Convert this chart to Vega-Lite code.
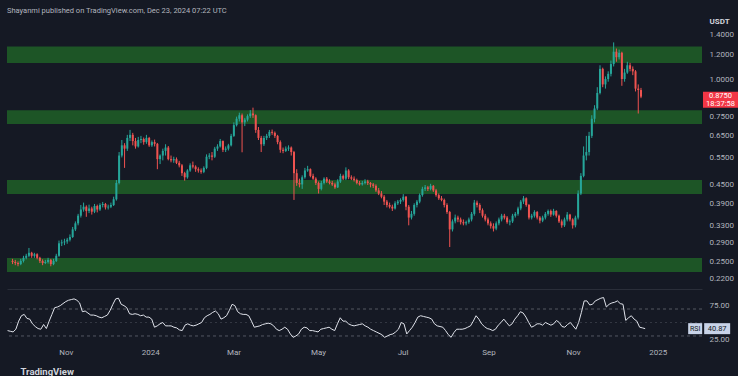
{
"$schema":"https://vega.github.io/schema/vega-lite/v6.json",
"background":"#151924",
"padding":{"left":5,"top":6,"right":0,"bottom":0},
"title":{"text":"Shayanmi published on TradingView.com, Dec 23, 2024 07:22 UTC","anchor":"start","frame":"group","fontSize":7.5,"fontWeight":"normal","color":"#b2b5be","offset":3,"font":"Roboto"},
"config":{"view":{"stroke":null},"font":"Roboto","axis":{"grid":false,"ticks":false,"domain":false,"labelColor":"#b2b5be","labelFontSize":8,"titleColor":"#d1d4dc"}},
"spacing":2,
"datasets":{
"zones":[{"lo":1.13,"hi":1.28},{"lo":0.711,"hi":0.79},{"lo":0.4185,"hi":0.465},{"lo":0.2317,"hi":0.2577}],
"candles":[
{"d":"2023-09-20","o":0.252,"h":0.256,"l":0.246,"c":0.250,"r":38},
{"d":"2023-09-22","o":0.250,"h":0.254,"l":0.244,"c":0.248,"r":37},
{"d":"2023-09-24","o":0.248,"h":0.251,"l":0.242,"c":0.246,"r":36},
{"d":"2023-09-26","o":0.246,"h":0.256,"l":0.244,"c":0.252,"r":40},
{"d":"2023-09-28","o":0.252,"h":0.262,"l":0.249,"c":0.258,"r":52},
{"d":"2023-09-30","o":0.258,"h":0.266,"l":0.255,"c":0.262,"r":60},
{"d":"2023-10-02","o":0.262,"h":0.278,"l":0.259,"c":0.268,"r":62},
{"d":"2023-10-04","o":0.268,"h":0.270,"l":0.258,"c":0.262,"r":56},
{"d":"2023-10-06","o":0.262,"h":0.268,"l":0.258,"c":0.265,"r":55},
{"d":"2023-10-08","o":0.265,"h":0.267,"l":0.255,"c":0.258,"r":48},
{"d":"2023-10-10","o":0.258,"h":0.260,"l":0.248,"c":0.252,"r":44},
{"d":"2023-10-12","o":0.252,"h":0.255,"l":0.244,"c":0.248,"r":41},
{"d":"2023-10-14","o":0.248,"h":0.254,"l":0.246,"c":0.250,"r":40},
{"d":"2023-10-16","o":0.250,"h":0.258,"l":0.247,"c":0.254,"r":47},
{"d":"2023-10-18","o":0.254,"h":0.256,"l":0.242,"c":0.246,"r":41},
{"d":"2023-10-20","o":0.246,"h":0.256,"l":0.244,"c":0.252,"r":52},
{"d":"2023-10-22","o":0.252,"h":0.266,"l":0.250,"c":0.262,"r":62},
{"d":"2023-10-24","o":0.262,"h":0.294,"l":0.260,"c":0.288,"r":72},
{"d":"2023-10-26","o":0.288,"h":0.296,"l":0.282,"c":0.290,"r":73},
{"d":"2023-10-28","o":0.290,"h":0.298,"l":0.284,"c":0.292,"r":75},
{"d":"2023-10-30","o":0.292,"h":0.300,"l":0.287,"c":0.296,"r":78},
{"d":"2023-11-01","o":0.296,"h":0.308,"l":0.292,"c":0.302,"r":81},
{"d":"2023-11-03","o":0.302,"h":0.326,"l":0.300,"c":0.320,"r":83},
{"d":"2023-11-05","o":0.320,"h":0.340,"l":0.316,"c":0.335,"r":84},
{"d":"2023-11-07","o":0.335,"h":0.360,"l":0.330,"c":0.355,"r":85},
{"d":"2023-11-09","o":0.355,"h":0.385,"l":0.350,"c":0.372,"r":83},
{"d":"2023-11-11","o":0.372,"h":0.392,"l":0.366,"c":0.380,"r":79},
{"d":"2023-11-13","o":0.380,"h":0.384,"l":0.352,"c":0.368,"r":66},
{"d":"2023-11-15","o":0.368,"h":0.386,"l":0.362,"c":0.375,"r":67},
{"d":"2023-11-17","o":0.375,"h":0.380,"l":0.358,"c":0.366,"r":64},
{"d":"2023-11-19","o":0.366,"h":0.388,"l":0.362,"c":0.382,"r":61},
{"d":"2023-11-21","o":0.382,"h":0.386,"l":0.364,"c":0.372,"r":61},
{"d":"2023-11-23","o":0.372,"h":0.390,"l":0.368,"c":0.385,"r":60},
{"d":"2023-11-25","o":0.385,"h":0.394,"l":0.378,"c":0.388,"r":58},
{"d":"2023-11-27","o":0.388,"h":0.391,"l":0.372,"c":0.378,"r":57},
{"d":"2023-11-29","o":0.378,"h":0.386,"l":0.372,"c":0.380,"r":59},
{"d":"2023-12-01","o":0.380,"h":0.392,"l":0.376,"c":0.385,"r":61},
{"d":"2023-12-03","o":0.385,"h":0.410,"l":0.382,"c":0.402,"r":68},
{"d":"2023-12-05","o":0.402,"h":0.465,"l":0.398,"c":0.455,"r":77},
{"d":"2023-12-07","o":0.455,"h":0.575,"l":0.450,"c":0.560,"r":85},
{"d":"2023-12-09","o":0.560,"h":0.630,"l":0.552,"c":0.605,"r":86},
{"d":"2023-12-11","o":0.605,"h":0.615,"l":0.510,"c":0.590,"r":77},
{"d":"2023-12-13","o":0.590,"h":0.655,"l":0.580,"c":0.640,"r":75},
{"d":"2023-12-15","o":0.640,"h":0.680,"l":0.625,"c":0.655,"r":72},
{"d":"2023-12-17","o":0.655,"h":0.665,"l":0.605,"c":0.625,"r":63},
{"d":"2023-12-19","o":0.625,"h":0.640,"l":0.590,"c":0.600,"r":62},
{"d":"2023-12-21","o":0.600,"h":0.645,"l":0.595,"c":0.630,"r":63},
{"d":"2023-12-23","o":0.630,"h":0.650,"l":0.615,"c":0.635,"r":62},
{"d":"2023-12-25","o":0.635,"h":0.642,"l":0.608,"c":0.620,"r":60},
{"d":"2023-12-27","o":0.620,"h":0.655,"l":0.612,"c":0.640,"r":61},
{"d":"2023-12-29","o":0.640,"h":0.645,"l":0.598,"c":0.605,"r":58},
{"d":"2023-12-31","o":0.605,"h":0.628,"l":0.598,"c":0.620,"r":58},
{"d":"2024-01-02","o":0.620,"h":0.632,"l":0.600,"c":0.612,"r":55},
{"d":"2024-01-04","o":0.612,"h":0.616,"l":0.505,"c":0.545,"r":43},
{"d":"2024-01-06","o":0.545,"h":0.565,"l":0.525,"c":0.560,"r":45},
{"d":"2024-01-08","o":0.560,"h":0.590,"l":0.540,"c":0.580,"r":48},
{"d":"2024-01-10","o":0.580,"h":0.610,"l":0.560,"c":0.595,"r":50},
{"d":"2024-01-12","o":0.595,"h":0.602,"l":0.540,"c":0.545,"r":45},
{"d":"2024-01-14","o":0.545,"h":0.560,"l":0.532,"c":0.540,"r":45},
{"d":"2024-01-16","o":0.540,"h":0.555,"l":0.530,"c":0.545,"r":45},
{"d":"2024-01-18","o":0.545,"h":0.552,"l":0.525,"c":0.530,"r":43},
{"d":"2024-01-20","o":0.530,"h":0.538,"l":0.512,"c":0.520,"r":42},
{"d":"2024-01-22","o":0.520,"h":0.525,"l":0.480,"c":0.490,"r":39},
{"d":"2024-01-24","o":0.490,"h":0.495,"l":0.463,"c":0.475,"r":38},
{"d":"2024-01-26","o":0.475,"h":0.505,"l":0.470,"c":0.500,"r":46},
{"d":"2024-01-28","o":0.500,"h":0.528,"l":0.495,"c":0.520,"r":48},
{"d":"2024-01-30","o":0.520,"h":0.535,"l":0.508,"c":0.515,"r":46},
{"d":"2024-02-01","o":0.515,"h":0.520,"l":0.495,"c":0.505,"r":45},
{"d":"2024-02-03","o":0.505,"h":0.512,"l":0.492,"c":0.500,"r":46},
{"d":"2024-02-05","o":0.500,"h":0.508,"l":0.488,"c":0.495,"r":48},
{"d":"2024-02-07","o":0.495,"h":0.516,"l":0.490,"c":0.510,"r":50},
{"d":"2024-02-09","o":0.510,"h":0.565,"l":0.505,"c":0.555,"r":57},
{"d":"2024-02-11","o":0.555,"h":0.570,"l":0.545,"c":0.560,"r":60},
{"d":"2024-02-13","o":0.560,"h":0.575,"l":0.540,"c":0.555,"r":62},
{"d":"2024-02-15","o":0.555,"h":0.598,"l":0.550,"c":0.590,"r":65},
{"d":"2024-02-17","o":0.590,"h":0.610,"l":0.580,"c":0.600,"r":67},
{"d":"2024-02-19","o":0.600,"h":0.635,"l":0.595,"c":0.625,"r":63},
{"d":"2024-02-21","o":0.625,"h":0.628,"l":0.575,"c":0.585,"r":55},
{"d":"2024-02-23","o":0.585,"h":0.600,"l":0.575,"c":0.590,"r":57},
{"d":"2024-02-25","o":0.590,"h":0.612,"l":0.582,"c":0.605,"r":60},
{"d":"2024-02-27","o":0.605,"h":0.660,"l":0.600,"c":0.650,"r":68},
{"d":"2024-02-29","o":0.650,"h":0.720,"l":0.645,"c":0.705,"r":77},
{"d":"2024-03-02","o":0.705,"h":0.752,"l":0.698,"c":0.740,"r":75},
{"d":"2024-03-04","o":0.740,"h":0.775,"l":0.725,"c":0.760,"r":66},
{"d":"2024-03-06","o":0.760,"h":0.770,"l":0.574,"c":0.720,"r":63},
{"d":"2024-03-08","o":0.720,"h":0.745,"l":0.700,"c":0.735,"r":62},
{"d":"2024-03-10","o":0.735,"h":0.765,"l":0.725,"c":0.755,"r":62},
{"d":"2024-03-12","o":0.755,"h":0.790,"l":0.745,"c":0.770,"r":60},
{"d":"2024-03-14","o":0.770,"h":0.805,"l":0.745,"c":0.760,"r":52},
{"d":"2024-03-16","o":0.760,"h":0.765,"l":0.665,"c":0.680,"r":43},
{"d":"2024-03-18","o":0.680,"h":0.695,"l":0.630,"c":0.640,"r":44},
{"d":"2024-03-20","o":0.640,"h":0.650,"l":0.575,"c":0.610,"r":45},
{"d":"2024-03-22","o":0.610,"h":0.650,"l":0.602,"c":0.640,"r":47},
{"d":"2024-03-24","o":0.640,"h":0.660,"l":0.630,"c":0.650,"r":48},
{"d":"2024-03-26","o":0.650,"h":0.680,"l":0.640,"c":0.670,"r":49},
{"d":"2024-03-28","o":0.670,"h":0.682,"l":0.655,"c":0.665,"r":48},
{"d":"2024-03-30","o":0.665,"h":0.672,"l":0.640,"c":0.650,"r":45},
{"d":"2024-04-01","o":0.650,"h":0.655,"l":0.610,"c":0.620,"r":40},
{"d":"2024-04-03","o":0.620,"h":0.628,"l":0.572,"c":0.585,"r":38},
{"d":"2024-04-05","o":0.585,"h":0.595,"l":0.570,"c":0.580,"r":40},
{"d":"2024-04-07","o":0.580,"h":0.600,"l":0.575,"c":0.590,"r":43},
{"d":"2024-04-09","o":0.590,"h":0.605,"l":0.580,"c":0.595,"r":40},
{"d":"2024-04-11","o":0.595,"h":0.600,"l":0.560,"c":0.575,"r":33},
{"d":"2024-04-13","o":0.575,"h":0.580,"l":0.400,"c":0.490,"r":28},
{"d":"2024-04-15","o":0.490,"h":0.505,"l":0.445,"c":0.455,"r":30},
{"d":"2024-04-17","o":0.455,"h":0.470,"l":0.440,"c":0.450,"r":33},
{"d":"2024-04-19","o":0.450,"h":0.482,"l":0.435,"c":0.475,"r":40},
{"d":"2024-04-21","o":0.475,"h":0.510,"l":0.470,"c":0.500,"r":43},
{"d":"2024-04-23","o":0.500,"h":0.518,"l":0.495,"c":0.505,"r":42},
{"d":"2024-04-25","o":0.505,"h":0.508,"l":0.475,"c":0.480,"r":38},
{"d":"2024-04-27","o":0.480,"h":0.488,"l":0.466,"c":0.470,"r":38},
{"d":"2024-04-29","o":0.470,"h":0.475,"l":0.448,"c":0.455,"r":37},
{"d":"2024-05-01","o":0.455,"h":0.460,"l":0.420,"c":0.435,"r":36},
{"d":"2024-05-03","o":0.435,"h":0.462,"l":0.430,"c":0.455,"r":40},
{"d":"2024-05-05","o":0.455,"h":0.475,"l":0.450,"c":0.470,"r":41},
{"d":"2024-05-07","o":0.470,"h":0.476,"l":0.455,"c":0.460,"r":42},
{"d":"2024-05-09","o":0.460,"h":0.468,"l":0.450,"c":0.455,"r":43},
{"d":"2024-05-11","o":0.455,"h":0.462,"l":0.445,"c":0.450,"r":40},
{"d":"2024-05-13","o":0.450,"h":0.456,"l":0.435,"c":0.440,"r":38},
{"d":"2024-05-15","o":0.440,"h":0.468,"l":0.438,"c":0.460,"r":48},
{"d":"2024-05-17","o":0.460,"h":0.488,"l":0.455,"c":0.480,"r":57},
{"d":"2024-05-19","o":0.480,"h":0.485,"l":0.465,"c":0.470,"r":52},
{"d":"2024-05-21","o":0.470,"h":0.512,"l":0.465,"c":0.500,"r":52},
{"d":"2024-05-23","o":0.500,"h":0.505,"l":0.468,"c":0.475,"r":48},
{"d":"2024-05-25","o":0.475,"h":0.482,"l":0.465,"c":0.470,"r":46},
{"d":"2024-05-27","o":0.470,"h":0.478,"l":0.460,"c":0.465,"r":45},
{"d":"2024-05-29","o":0.465,"h":0.470,"l":0.450,"c":0.455,"r":46},
{"d":"2024-05-31","o":0.455,"h":0.462,"l":0.446,"c":0.450,"r":47},
{"d":"2024-06-02","o":0.450,"h":0.462,"l":0.446,"c":0.455,"r":48},
{"d":"2024-06-04","o":0.455,"h":0.468,"l":0.450,"c":0.460,"r":45},
{"d":"2024-06-06","o":0.460,"h":0.466,"l":0.448,"c":0.455,"r":43},
{"d":"2024-06-08","o":0.455,"h":0.458,"l":0.440,"c":0.450,"r":40},
{"d":"2024-06-10","o":0.450,"h":0.455,"l":0.438,"c":0.445,"r":38},
{"d":"2024-06-12","o":0.445,"h":0.450,"l":0.425,"c":0.430,"r":36},
{"d":"2024-06-14","o":0.430,"h":0.438,"l":0.415,"c":0.420,"r":34},
{"d":"2024-06-16","o":0.420,"h":0.428,"l":0.405,"c":0.410,"r":32},
{"d":"2024-06-18","o":0.410,"h":0.415,"l":0.385,"c":0.395,"r":28},
{"d":"2024-06-20","o":0.395,"h":0.400,"l":0.378,"c":0.385,"r":30},
{"d":"2024-06-22","o":0.385,"h":0.392,"l":0.375,"c":0.380,"r":32},
{"d":"2024-06-24","o":0.380,"h":0.386,"l":0.368,"c":0.375,"r":33},
{"d":"2024-06-26","o":0.375,"h":0.396,"l":0.372,"c":0.390,"r":36},
{"d":"2024-06-28","o":0.390,"h":0.400,"l":0.385,"c":0.395,"r":40},
{"d":"2024-06-30","o":0.395,"h":0.405,"l":0.388,"c":0.400,"r":50},
{"d":"2024-07-02","o":0.400,"h":0.418,"l":0.395,"c":0.410,"r":48},
{"d":"2024-07-04","o":0.410,"h":0.412,"l":0.370,"c":0.380,"r":33},
{"d":"2024-07-06","o":0.380,"h":0.385,"l":0.330,"c":0.350,"r":38},
{"d":"2024-07-08","o":0.350,"h":0.368,"l":0.345,"c":0.360,"r":43},
{"d":"2024-07-10","o":0.360,"h":0.390,"l":0.355,"c":0.385,"r":50},
{"d":"2024-07-12","o":0.385,"h":0.400,"l":0.378,"c":0.395,"r":58},
{"d":"2024-07-14","o":0.395,"h":0.420,"l":0.390,"c":0.415,"r":60},
{"d":"2024-07-16","o":0.415,"h":0.442,"l":0.410,"c":0.435,"r":59},
{"d":"2024-07-18","o":0.435,"h":0.448,"l":0.428,"c":0.440,"r":58},
{"d":"2024-07-20","o":0.440,"h":0.445,"l":0.428,"c":0.435,"r":57},
{"d":"2024-07-22","o":0.435,"h":0.452,"l":0.430,"c":0.445,"r":55},
{"d":"2024-07-24","o":0.445,"h":0.448,"l":0.425,"c":0.430,"r":48},
{"d":"2024-07-26","o":0.430,"h":0.435,"l":0.410,"c":0.415,"r":45},
{"d":"2024-07-28","o":0.415,"h":0.420,"l":0.400,"c":0.405,"r":44},
{"d":"2024-07-30","o":0.405,"h":0.412,"l":0.396,"c":0.400,"r":43},
{"d":"2024-08-01","o":0.400,"h":0.404,"l":0.378,"c":0.385,"r":38},
{"d":"2024-08-03","o":0.385,"h":0.390,"l":0.360,"c":0.365,"r":32},
{"d":"2024-08-05","o":0.365,"h":0.368,"l":0.280,"c":0.320,"r":28},
{"d":"2024-08-07","o":0.320,"h":0.345,"l":0.315,"c":0.340,"r":35},
{"d":"2024-08-09","o":0.340,"h":0.358,"l":0.335,"c":0.350,"r":40},
{"d":"2024-08-11","o":0.350,"h":0.355,"l":0.338,"c":0.345,"r":40},
{"d":"2024-08-13","o":0.345,"h":0.350,"l":0.332,"c":0.338,"r":40},
{"d":"2024-08-15","o":0.338,"h":0.345,"l":0.330,"c":0.335,"r":41},
{"d":"2024-08-17","o":0.335,"h":0.342,"l":0.330,"c":0.338,"r":43},
{"d":"2024-08-19","o":0.338,"h":0.350,"l":0.334,"c":0.345,"r":45},
{"d":"2024-08-21","o":0.345,"h":0.365,"l":0.340,"c":0.360,"r":52},
{"d":"2024-08-23","o":0.360,"h":0.400,"l":0.355,"c":0.392,"r":60},
{"d":"2024-08-25","o":0.392,"h":0.398,"l":0.378,"c":0.385,"r":55},
{"d":"2024-08-27","o":0.385,"h":0.390,"l":0.362,"c":0.370,"r":48},
{"d":"2024-08-29","o":0.370,"h":0.375,"l":0.350,"c":0.355,"r":44},
{"d":"2024-08-31","o":0.355,"h":0.360,"l":0.340,"c":0.345,"r":41},
{"d":"2024-09-02","o":0.345,"h":0.350,"l":0.330,"c":0.335,"r":40},
{"d":"2024-09-04","o":0.335,"h":0.340,"l":0.322,"c":0.328,"r":38},
{"d":"2024-09-06","o":0.328,"h":0.335,"l":0.315,"c":0.322,"r":40},
{"d":"2024-09-08","o":0.322,"h":0.340,"l":0.318,"c":0.335,"r":46},
{"d":"2024-09-10","o":0.335,"h":0.350,"l":0.330,"c":0.345,"r":50},
{"d":"2024-09-12","o":0.345,"h":0.360,"l":0.340,"c":0.355,"r":55},
{"d":"2024-09-14","o":0.355,"h":0.360,"l":0.345,"c":0.350,"r":50},
{"d":"2024-09-16","o":0.350,"h":0.354,"l":0.334,"c":0.338,"r":45},
{"d":"2024-09-18","o":0.338,"h":0.345,"l":0.330,"c":0.340,"r":48},
{"d":"2024-09-20","o":0.340,"h":0.360,"l":0.336,"c":0.355,"r":55},
{"d":"2024-09-22","o":0.355,"h":0.365,"l":0.350,"c":0.360,"r":60},
{"d":"2024-09-24","o":0.360,"h":0.380,"l":0.355,"c":0.375,"r":66},
{"d":"2024-09-26","o":0.375,"h":0.400,"l":0.370,"c":0.395,"r":64},
{"d":"2024-09-28","o":0.395,"h":0.412,"l":0.388,"c":0.405,"r":58},
{"d":"2024-09-30","o":0.405,"h":0.408,"l":0.380,"c":0.385,"r":50},
{"d":"2024-10-02","o":0.385,"h":0.388,"l":0.345,"c":0.350,"r":43},
{"d":"2024-10-04","o":0.350,"h":0.360,"l":0.345,"c":0.355,"r":45},
{"d":"2024-10-06","o":0.355,"h":0.370,"l":0.350,"c":0.365,"r":48},
{"d":"2024-10-08","o":0.365,"h":0.368,"l":0.345,"c":0.350,"r":48},
{"d":"2024-10-10","o":0.350,"h":0.354,"l":0.335,"c":0.342,"r":46},
{"d":"2024-10-12","o":0.342,"h":0.355,"l":0.338,"c":0.350,"r":50},
{"d":"2024-10-14","o":0.350,"h":0.365,"l":0.345,"c":0.360,"r":48},
{"d":"2024-10-16","o":0.360,"h":0.372,"l":0.355,"c":0.368,"r":46},
{"d":"2024-10-18","o":0.368,"h":0.372,"l":0.352,"c":0.358,"r":48},
{"d":"2024-10-20","o":0.358,"h":0.374,"l":0.355,"c":0.368,"r":53},
{"d":"2024-10-22","o":0.368,"h":0.370,"l":0.350,"c":0.355,"r":50},
{"d":"2024-10-24","o":0.355,"h":0.358,"l":0.336,"c":0.340,"r":44},
{"d":"2024-10-26","o":0.340,"h":0.345,"l":0.324,"c":0.330,"r":43},
{"d":"2024-10-28","o":0.330,"h":0.350,"l":0.326,"c":0.345,"r":47},
{"d":"2024-10-30","o":0.345,"h":0.365,"l":0.340,"c":0.358,"r":50},
{"d":"2024-11-01","o":0.358,"h":0.360,"l":0.340,"c":0.345,"r":45},
{"d":"2024-11-03","o":0.345,"h":0.348,"l":0.322,"c":0.330,"r":40},
{"d":"2024-11-05","o":0.330,"h":0.355,"l":0.325,"c":0.350,"r":50},
{"d":"2024-11-07","o":0.350,"h":0.430,"l":0.345,"c":0.420,"r":65},
{"d":"2024-11-09","o":0.420,"h":0.490,"l":0.415,"c":0.480,"r":82},
{"d":"2024-11-11","o":0.480,"h":0.600,"l":0.475,"c":0.560,"r":82},
{"d":"2024-11-13","o":0.560,"h":0.650,"l":0.540,"c":0.575,"r":76},
{"d":"2024-11-15","o":0.575,"h":0.670,"l":0.560,"c":0.650,"r":77},
{"d":"2024-11-17","o":0.650,"h":0.760,"l":0.640,"c":0.740,"r":82},
{"d":"2024-11-19","o":0.740,"h":0.820,"l":0.720,"c":0.800,"r":84},
{"d":"2024-11-21","o":0.800,"h":0.940,"l":0.790,"c":0.900,"r":86},
{"d":"2024-11-23","o":0.900,"h":1.110,"l":0.890,"c":1.080,"r":87},
{"d":"2024-11-25","o":1.080,"h":1.090,"l":0.940,"c":0.960,"r":73},
{"d":"2024-11-27","o":0.960,"h":1.020,"l":0.930,"c":1.000,"r":77},
{"d":"2024-11-29","o":1.000,"h":1.060,"l":0.980,"c":1.040,"r":79},
{"d":"2024-12-01","o":1.040,"h":1.150,"l":1.020,"c":1.120,"r":80},
{"d":"2024-12-03","o":1.120,"h":1.320,"l":1.100,"c":1.230,"r":82},
{"d":"2024-12-05","o":1.230,"h":1.260,"l":1.140,"c":1.180,"r":78},
{"d":"2024-12-07","o":1.180,"h":1.250,"l":1.160,"c":1.220,"r":77},
{"d":"2024-12-09","o":1.220,"h":1.230,"l":0.950,"c":1.000,"r":53},
{"d":"2024-12-11","o":1.000,"h":1.080,"l":0.980,"c":1.050,"r":57},
{"d":"2024-12-13","o":1.050,"h":1.140,"l":1.040,"c":1.110,"r":60},
{"d":"2024-12-15","o":1.110,"h":1.130,"l":1.060,"c":1.080,"r":55},
{"d":"2024-12-17","o":1.080,"h":1.100,"l":1.030,"c":1.060,"r":52},
{"d":"2024-12-19","o":1.060,"h":1.070,"l":0.910,"c":0.930,"r":43},
{"d":"2024-12-21","o":0.930,"h":0.960,"l":0.770,"c":0.920,"r":42},
{"d":"2024-12-23","o":0.920,"h":0.935,"l":0.865,"c":0.875,"r":40.87}
],
"last":[{"d":"2024-12-23","p":0.875,"t":"0.8750","u":"18:37:58","r":40.87,"rt":"40.87","n":"RSI"}]
},
"vconcat":[
{
"width":695,"height":260,
"layer":[
{"data":{"name":"zones"},"mark":{"type":"rect","color":"#1d5526"},
 "encoding":{"y":{"field":"lo","type":"quantitative","scale":{"type":"log","domain":[0.2037,1.461],"nice":false,"zero":false},
   "axis":{"orient":"right","values":[0.22,0.25,0.29,0.33,0.39,0.45,0.55,0.65,0.75,1.0,1.2,1.4],"format":".4f","labelAlign":"left","labelPadding":7,"labelBaseline":"middle","title":"USDT","titleAngle":0,"titleAlign":"left","titleBaseline":"middle","titleX":7,"titleY":-8,"titleFontSize":8,"titleFontWeight":"bold"}},
  "y2":{"field":"hi"}}},
{"data":{"name":"candles"},"mark":{"type":"rule","strokeWidth":1},
 "encoding":{"x":{"field":"d","type":"temporal","scale":{"type":"utc","domain":[{"year":2023,"month":9,"date":19,"hours":14,"minutes":24,"utc":true},{"year":2025,"month":2,"date":2,"utc":true}]},"axis":{"labels":false,"domain":true,"domainColor":"#2a2e39","title":null}},
  "y":{"field":"l","type":"quantitative","scale":{"type":"log","domain":[0.2037,1.461],"nice":false,"zero":false}},
  "y2":{"field":"h"},
  "color":{"condition":{"test":"datum.c >= datum.o","value":"#26a69a"},"value":"#ef5350"}}},
{"data":{"name":"candles"},"mark":{"type":"bar","width":2},
 "encoding":{"x":{"field":"d","type":"temporal"},
  "y":{"field":"o","type":"quantitative","scale":{"type":"log","domain":[0.2037,1.461],"nice":false,"zero":false}},
  "y2":{"field":"c"},
  "color":{"condition":{"test":"datum.c >= datum.o","value":"#26a69a"},"value":"#ef5350"}}},
{"data":{"name":"last"},"mark":{"type":"rect","color":"#f23645","xOffset":62,"x2Offset":97,"yOffset":-5,"y2Offset":11},
 "encoding":{"x":{"field":"d","type":"temporal"},"x2":{"field":"d"},"y":{"field":"p","type":"quantitative"},"y2":{"field":"p"}}},
{"data":{"name":"last"},"mark":{"type":"text","color":"#ffffff","fontSize":7.5,"align":"center","baseline":"middle","dx":79.5,"dy":-0.5},
 "encoding":{"x":{"field":"d","type":"temporal"},"y":{"field":"p","type":"quantitative"},"text":{"field":"t"}}},
{"data":{"name":"last"},"mark":{"type":"text","color":"#ffffff","fontSize":7.5,"align":"center","baseline":"middle","dx":79.5,"dy":7.5},
 "encoding":{"x":{"field":"d","type":"temporal"},"y":{"field":"p","type":"quantitative"},"text":{"field":"u"}}}
]
},
{
"width":695,"height":53,
"layer":[
{"data":{"values":[{"v":70},{"v":30}]},"mark":{"type":"rule","color":"#787b86","strokeDash":[3,3],"opacity":0.8,"strokeWidth":0.8},
 "encoding":{"y":{"field":"v","type":"quantitative","scale":{"domain":[18.1,96.7],"nice":false,"zero":false},
   "axis":{"orient":"right","values":[25,50,75],"format":".2f","labelAlign":"left","labelPadding":7,"labelBaseline":"middle","title":null}}}},
{"data":{"values":[{"v":50}]},"mark":{"type":"rule","color":"#787b86","strokeDash":[2,3],"opacity":0.4,"strokeWidth":0.8},
 "encoding":{"y":{"field":"v","type":"quantitative"}}},
{"data":{"name":"candles"},"mark":{"type":"line","color":"#e0e3eb","strokeWidth":1},
 "encoding":{"x":{"field":"d","type":"temporal","scale":{"type":"utc","domain":[{"year":2023,"month":9,"date":19,"hours":14,"minutes":24,"utc":true},{"year":2025,"month":2,"date":2,"utc":true}]},
   "axis":{"values":[{"year":2023,"month":11,"date":1,"utc":true},{"year":2024,"month":1,"date":1,"utc":true},{"year":2024,"month":3,"date":1,"utc":true},{"year":2024,"month":5,"date":1,"utc":true},{"year":2024,"month":7,"date":1,"utc":true},{"year":2024,"month":9,"date":1,"utc":true},{"year":2024,"month":11,"date":1,"utc":true},{"year":2025,"month":1,"date":1,"utc":true}],
   "labelExpr":"utcmonth(datum.value) == 0 ? utcFormat(datum.value, '%Y') : utcFormat(datum.value, '%b')","labelPadding":4,"labelFontSize":8,
   "title":"TradingView","titleAnchor":"start","titleAlign":"left","titleBaseline":"middle","titleX":13,"titleY":27,"titleFontSize":9.5,"titleFontWeight":"bold","titleColor":"#d1d4dc"}},
  "y":{"field":"r","type":"quantitative"}}},
{"data":{"name":"last"},"mark":{"type":"rect","color":"#c8d3e8","xOffset":43,"x2Offset":57,"yOffset":-5.5,"y2Offset":5.5},
 "encoding":{"x":{"field":"d","type":"temporal"},"x2":{"field":"d"},"y":{"field":"r","type":"quantitative"},"y2":{"field":"r"}}},
{"data":{"name":"last"},"mark":{"type":"rect","color":"#c8d3e8","xOffset":59,"x2Offset":85,"yOffset":-5.5,"y2Offset":5.5},
 "encoding":{"x":{"field":"d","type":"temporal"},"x2":{"field":"d"},"y":{"field":"r","type":"quantitative"},"y2":{"field":"r"}}},
{"data":{"name":"last"},"mark":{"type":"text","color":"#131722","fontSize":7,"align":"center","baseline":"middle","dx":50},
 "encoding":{"x":{"field":"d","type":"temporal"},"y":{"field":"r","type":"quantitative"},"text":{"field":"n"}}},
{"data":{"name":"last"},"mark":{"type":"text","color":"#131722","fontSize":7.5,"align":"center","baseline":"middle","dx":72},
 "encoding":{"x":{"field":"d","type":"temporal"},"y":{"field":"r","type":"quantitative"},"text":{"field":"rt"}}}
]
}
]
}
